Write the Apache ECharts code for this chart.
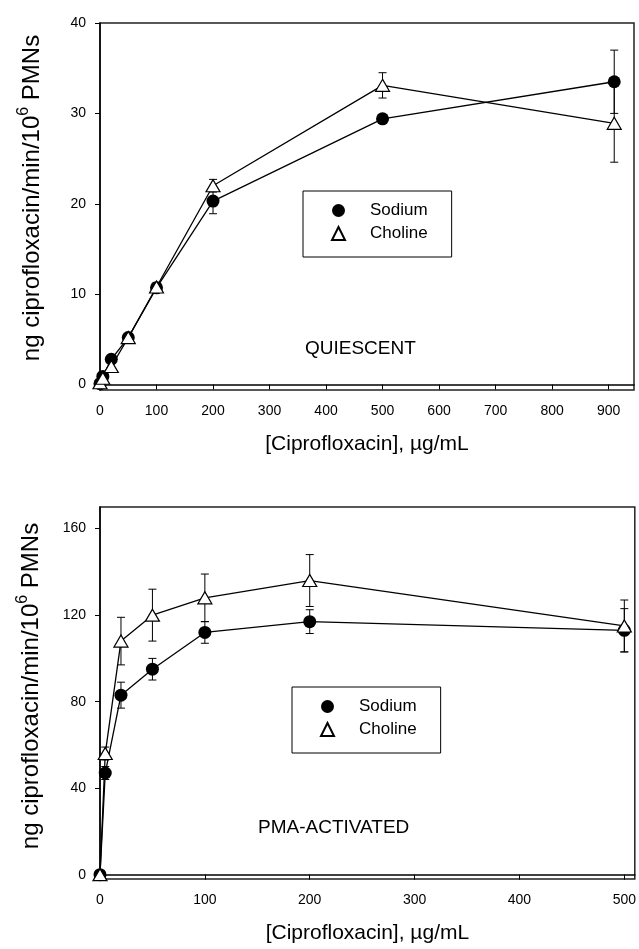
<!DOCTYPE html>
<html>
<head>
<meta charset="utf-8">
<title>Ciprofloxacin uptake by PMNs</title>
<script src="https://cdn.jsdelivr.net/npm/echarts@6/dist/echarts.min.js"></script>
<style>
html,body{margin:0;padding:0;background:#fff;}
#chart{width:639px;height:949px;}
</style>
</head>
<body>
<div id="chart"></div>
<script>
// quiescent PMNs (top panel)
var quiX = [0, 5, 20, 50, 100, 200, 500, 910];
var quiSodium = [0.1, 0.9, 2.8, 5.2, 10.7, 20.3, 29.4, 33.5];
var quiSodiumErr = [0, 0, 0, 0.3, 0.4, 1.4, 0.5, 3.5];
var quiCholine = [0.2, 0.7, 2.0, 5.2, 10.8, 22.0, 33.1, 28.9];
var quiCholineErr = [0, 0, 0, 0.3, 0.5, 0.7, 1.4, 4.3];
var quiXTicks = [0, 100, 200, 300, 400, 500, 600, 700, 800, 900];
var quiYTicks = [0, 10, 20, 30, 40];

// PMA-activated PMNs (bottom panel)
var pmaX = [0, 5, 20, 50, 100, 200, 500];
var pmaSodium = [0, 47, 83, 95, 112, 117, 113];
var pmaSodiumErr = [0, 3, 6, 5, 5, 5.5, 10];
var pmaCholine = [0, 56, 108, 120, 128, 136, 115];
var pmaCholineErr = [0, 3, 11, 12, 11, 12, 12];
var pmaXTicks = [0, 100, 200, 300, 400, 500];
var pmaYTicks = [0, 40, 80, 120, 160];

var seriesNames = ['Sodium', 'Choline'];

var FONT = 'Liberation Sans, Arial, Helvetica, sans-serif';
var yTitle = 'ng ciprofloxacin/min/10{sup|6} PMNs';
var xTitle = '[Ciprofloxacin], µg/mL';

function pairs(xs, ys) {
	return xs.map(function (x, i) { return [x, ys[i]]; });
}

// vertical error bars with caps
function errorBars(xs, ys, errs, idx) {
	var data = [];
	xs.forEach(function (x, i) {
		if (errs[i] > 0) data.push([x, ys[i] - errs[i], ys[i] + errs[i]]);
	});
	return {
		type: 'custom',
		xAxisIndex: idx,
		yAxisIndex: idx,
		silent: true,
		z: 1,
		encode: { x: 0, y: [1, 2] },
		data: data,
		renderItem: function (params, api) {
			var lo = api.coord([api.value(0), api.value(1)]);
			var hi = api.coord([api.value(0), api.value(2)]);
			var w = 4;
			var st = { stroke: '#000', lineWidth: 1 };
			return {
				type: 'group',
				children: [
					{ type: 'line', shape: { x1: lo[0], y1: lo[1], x2: hi[0], y2: hi[1] }, style: st },
					{ type: 'line', shape: { x1: lo[0] - w, y1: lo[1], x2: lo[0] + w, y2: lo[1] }, style: st },
					{ type: 'line', shape: { x1: hi[0] - w, y1: hi[1], x2: hi[0] + w, y2: hi[1] }, style: st }
				]
			};
		}
	};
}

function sodiumLine(xs, ys, idx) {
	return {
		name: seriesNames[0], type: 'line', xAxisIndex: idx, yAxisIndex: idx,
		clip: false, z: 3,
		symbol: 'circle', symbolSize: 13,
		itemStyle: { color: '#000' },
		lineStyle: { color: '#000', width: 1.3 },
		data: pairs(xs, ys)
	};
}

function cholineLine(xs, ys, idx) {
	return {
		name: seriesNames[1], type: 'line', xAxisIndex: idx, yAxisIndex: idx,
		clip: false, z: 4,
		symbol: 'triangle', symbolSize: [14, 12],
		itemStyle: { color: '#fff', borderColor: '#000', borderWidth: 1.2 },
		lineStyle: { color: '#000', width: 1.3 },
		data: pairs(xs, ys)
	};
}

function xAxis(idx, max, ticks) {
	return {
		type: 'value', gridIndex: idx, min: 0, max: max,
		name: xTitle, nameLocation: 'middle', nameGap: 44,
		nameTextStyle: { fontFamily: FONT, fontSize: 21, color: '#000' },
		axisLine: { lineStyle: { color: '#000', width: 1.5 } },
		axisTick: { show: true, inside: false, length: 5, customValues: ticks, lineStyle: { color: '#000' } },
		axisLabel: { customValues: ticks, fontFamily: FONT, fontSize: 14, color: '#000', margin: 14 },
		splitLine: { show: false }
	};
}

function yAxis(idx, min, max, ticks) {
	return {
		type: 'value', gridIndex: idx, min: min, max: max,
		axisLine: { lineStyle: { color: '#000', width: 1.5 } },
		axisTick: { show: true, inside: false, length: 5, customValues: ticks, lineStyle: { color: '#000' } },
		axisLabel: { customValues: ticks, fontFamily: FONT, fontSize: 14, color: '#000', margin: 14 },
		splitLine: { show: false }
	};
}

function legend(left, top) {
	return {
		orient: 'vertical', left: left, top: top,
		borderColor: '#000', borderWidth: 1,
		padding: [10, 24, 14, 28],
		itemWidth: 13, itemHeight: 13, itemGap: 4,
		textStyle: { fontFamily: FONT, fontSize: 17, lineHeight: 19, color: '#000', padding: [0, 0, 0, 20] },
		data: [
			{ name: seriesNames[0], icon: 'circle' },
			{ name: seriesNames[1], icon: 'triangle' }
		]
	};
}

function yName(x, y, size) {
	return {
		type: 'text', x: x, y: y, rotation: Math.PI / 2,
		style: {
			text: yTitle, fontFamily: FONT, fontSize: size, fill: '#000',
			align: 'center', verticalAlign: 'middle', lineHeight: size + 8,
			rich: { sup: { fontFamily: FONT, fontSize: Math.round(size * 0.68), lineHeight: Math.round(size * 0.68), verticalAlign: 'top', fill: '#000' } }
		}
	};
}

var myChart = echarts.init(document.getElementById('chart'), null, { renderer: 'canvas' });
var option = {
	backgroundColor: '#fff',
	animation: false,
	grid: [
		{ left: 100, right: 5, top: 23, height: 367, show: true, borderColor: '#222', borderWidth: 1.5 },
		{ left: 100, right: 4, top: 507, height: 372, show: true, borderColor: '#222', borderWidth: 1.5 }
	],
	xAxis: [xAxis(0, 945, quiXTicks), xAxis(1, 510, pmaXTicks)],
	yAxis: [yAxis(0, -0.6, 40, quiYTicks), yAxis(1, -2, 170, pmaYTicks)],
	legend: [legend(303, 191), legend(292, 687)],
	graphic: [
		yName(32, 198, 24),
		yName(31, 686, 24),
		{ type: 'text', left: 305, top: 339, style: { text: 'QUIESCENT', fontFamily: FONT, fontSize: 19, fill: '#000' } },
		{ type: 'text', left: 258, top: 818, style: { text: 'PMA-ACTIVATED', fontFamily: FONT, fontSize: 19, fill: '#000' } }
	],
	series: [
		errorBars(quiX, quiSodium, quiSodiumErr, 0),
		errorBars(quiX, quiCholine, quiCholineErr, 0),
		sodiumLine(quiX, quiSodium, 0),
		cholineLine(quiX, quiCholine, 0),
		errorBars(pmaX, pmaSodium, pmaSodiumErr, 1),
		errorBars(pmaX, pmaCholine, pmaCholineErr, 1),
		sodiumLine(pmaX, pmaSodium, 1),
		cholineLine(pmaX, pmaCholine, 1)
	]
};
myChart.setOption(option);
</script>
</body>
</html>
